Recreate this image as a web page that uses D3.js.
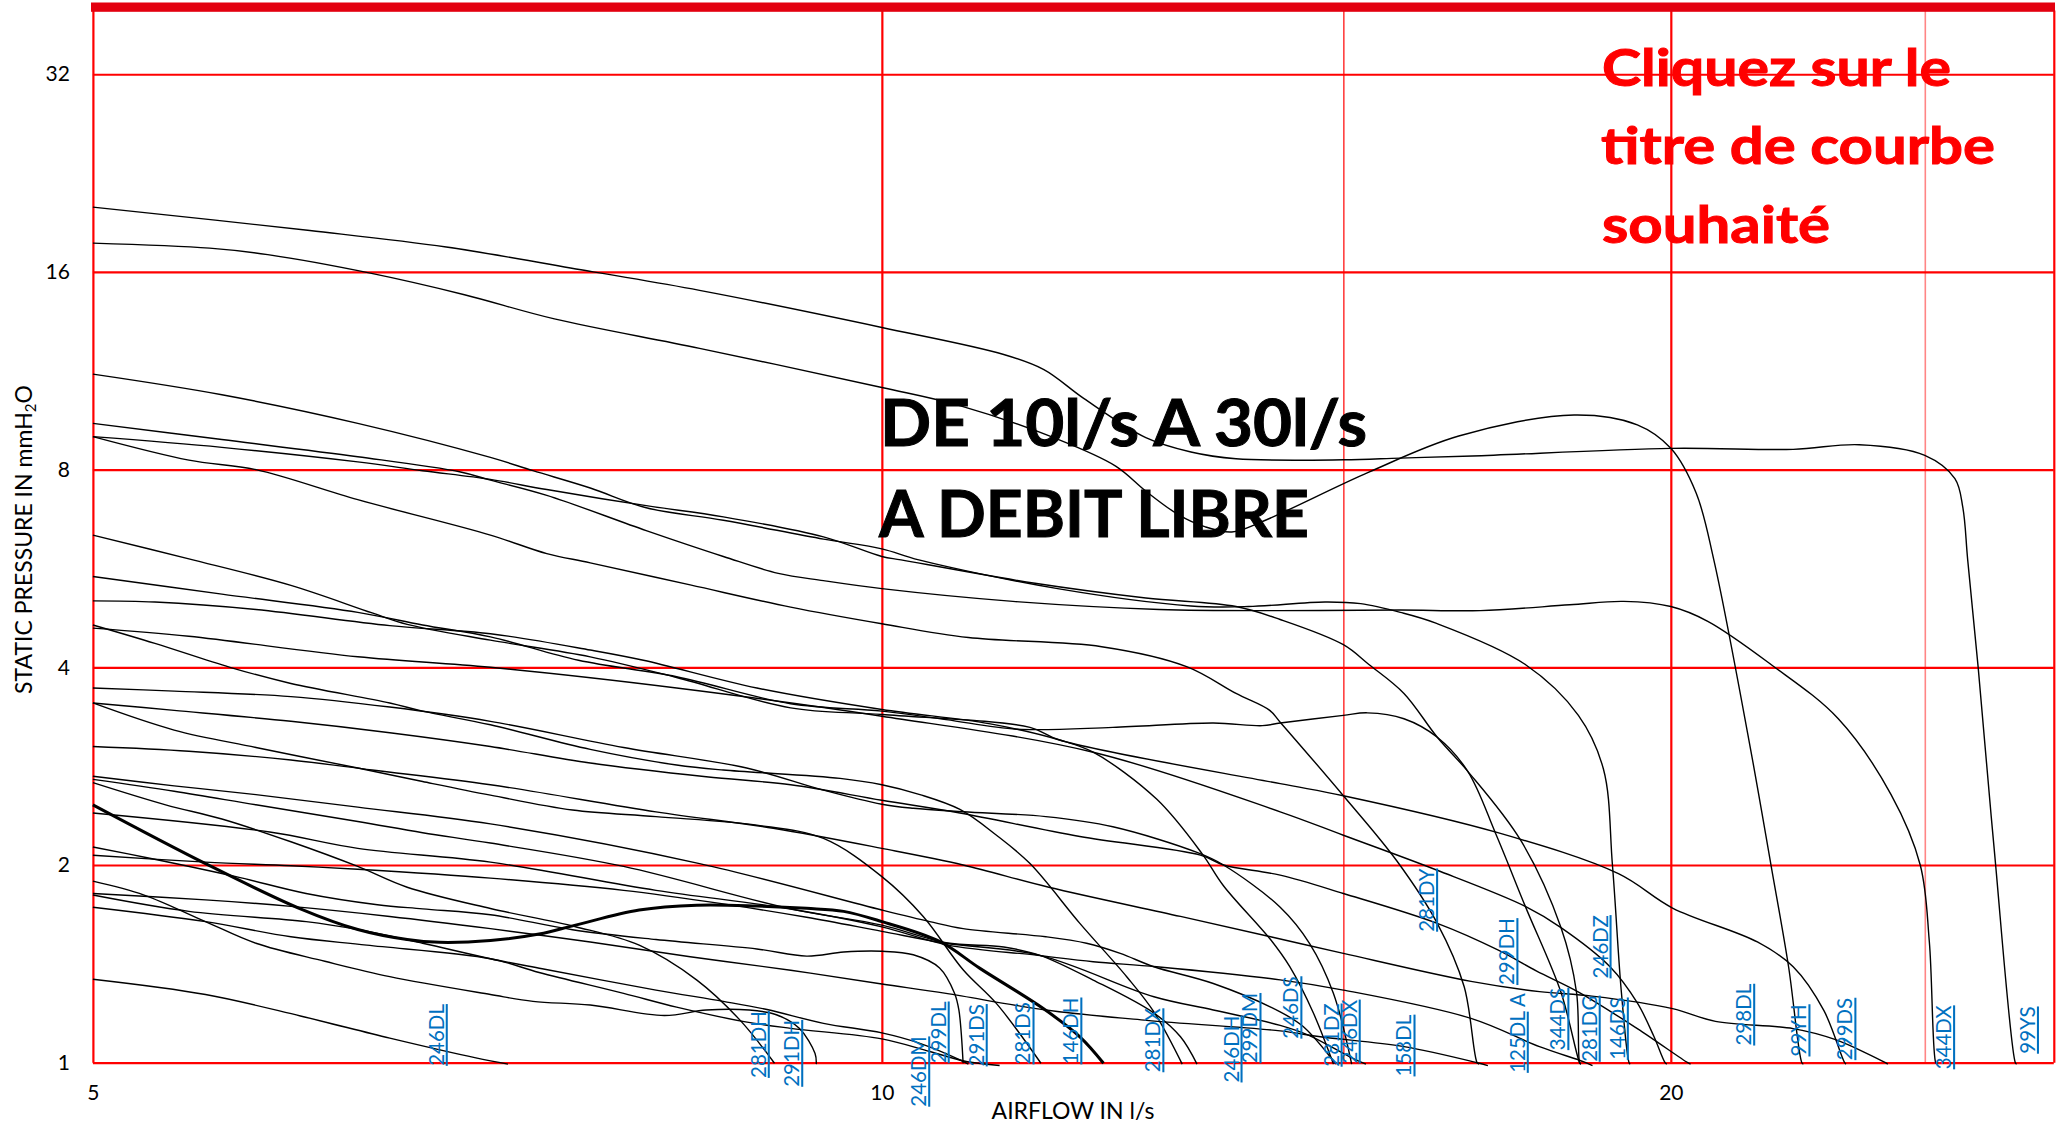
<!DOCTYPE html>
<html>
<head>
<meta charset="utf-8">
<script src="https://cdn.jsdelivr.net/npm/d3@7"></script>
<style>
    html, body { margin: 0; padding: 0; background: #fff; }
    text { font-family: Lato, sans-serif; }
    .curve { fill: none; stroke: #000; stroke-width: 1.4; }
    .curve.bold { stroke-width: 3; }
    .tickAxis text { font-size: 21px; fill: #000; }
    .curveTitle { font-size: 20.5px; fill: #0070c0; }
    .curveTitle .link { text-decoration: underline; }
</style>
</head>
<body>
<div id="chart"></div>
<script>
var svgWidth = 2069;
var svgHeight = 1125;

// airflow l/s, static pressure mmH2O
var c01 = [[5,20.08],[6.05,18.5],[6.82,17.46],[7.76,16],[8.52,15],[10,13.17],[11.13,11.98],[11.53,11.36],[11.94,10.27],[12.61,8.95],[13.12,8.51],[13.65,8.31],[15,8.28],[15.77,8.33],[16.8,8.39],[20,8.62],[22.27,8.59],[23.6,8.73],[25,8.41],[25.67,7.75],[25.85,7],[25.96,5.83],[26.2,4],[26.57,2.12],[27.07,1],[27.1,0.995]];
var c02 = [[5,17.7],[5.54,17.39],[5.83,17],[6.38,15.93],[6.93,14.77],[7.5,13.57],[8.52,12.24],[10,10.67],[10.7,10.02],[11.67,8.9],[12.28,8.1],[12.61,7.42],[12.97,6.84],[13.28,6.55],[13.6,6.43],[13.97,6.67],[15.34,7.93],[16.6,9],[18.37,9.69],[19.42,9.36],[20,8.62],[20.45,7.37],[20.77,5.83],[21.42,3.1],[21.84,2],[22.18,1.4],[22.44,1],[22.47,0.995]];
var c03 = [[5,11.18],[5.6,10.4],[6.31,9.41],[7.09,8.35],[7.36,7.97],[7.74,7.5],[8.13,7],[8.7,6.7],[9.5,6.27],[10,6.06],[10.33,5.83],[11.67,5.27],[13.12,4.96],[13.8,4.95],[14.76,5.03],[15.23,5],[15.77,4.85],[16.27,4.67],[17.6,4.04],[18.44,3.38],[18.85,2.8],[19,2],[19.15,1.28],[19.28,1],[19.3,0.995]];
var c04 = [[5,9.41],[5.6,8.89],[6.31,8.37],[6.9,7.94],[7.09,7.71],[7.45,7.31],[8.13,6.46],[8.7,5.9],[9.13,5.56],[9.5,5.42],[10,5.27],[11.22,5.04],[12.76,4.9],[14.19,4.88],[15.77,4.89],[16.92,4.88],[18.3,4.98],[19.19,5.04],[20,4.95],[20.66,4.7],[21.84,4.04],[23.17,3.34],[24.27,2.56],[24.9,2],[25.1,1.527],[25.24,1],[25.27,0.995]];
var c05 = [[5,8.98],[5.6,8.65],[6.31,8.22],[6.68,7.97],[7.09,7.73],[7.45,7.46],[8.13,7.05],[8.7,6.78],[9.5,6.32],[10,5.9],[10.17,5.83],[11.44,5.37],[12.61,5.1],[13.65,4.95],[14.19,4.73],[15,4.33],[15.34,4.04],[15.82,3.65],[16.29,3.13],[16.73,2.78],[17.53,2.18],[18.16,1.606],[18.41,1.28],[18.46,1],[18.48,0.995]];
var c06 = [[5,8.98],[5.44,8.27],[5.77,8],[6.31,7.2],[7.09,6.36],[7.45,5.96],[7.74,5.77],[8.45,5.34],[9.23,4.94],[10,4.66],[10.79,4.44],[12.13,4.3],[13.07,4.01],[13.65,3.65],[14.06,3.44],[14.19,3.3],[15,2.55],[15.72,2.03],[16.29,1.63],[16.68,1.305],[16.87,1],[16.9,0.995]];
var c07 = [[5,5.05],[5.28,5.03],[5.77,4.9],[6.49,4.63],[7.09,4.5],[7.74,4.25],[8.11,4.1],[8.96,3.72],[10,3.45],[11,3.28],[11.69,3.1],[12.04,2.97],[12.73,2.52],[13.25,2.08],[13.5,1.86],[14.07,1.54],[14.31,1.4],[14.61,1.19],[14.87,0.995]];
var c08 = [[5,5.5],[5.6,5.17],[6.31,4.85],[6.68,4.64],[7.09,4.45],[7.66,4.1],[8.35,3.87],[9.23,3.52],[10,3.43],[10.58,3.33],[11.26,3.22],[12.25,3.24],[13.38,3.29],[13.97,3.26],[14.19,3.29],[15,3.38],[15.32,3.41],[15.82,3.34],[16.29,3.13],[16.73,2.78],[17.15,2.23],[17.6,1.73],[18.16,1.28],[18.46,1],[18.48,0.995]];
var c09 = [[5,6.36],[5.44,5.85],[5.95,5.33],[6.39,4.84],[6.59,4.65],[7.09,4.4],[7.74,4.15],[8.35,3.86],[9.23,3.47],[10,3.39],[11.39,3.24],[11.69,3.1],[14.19,2.66],[15,2.55],[17.18,2.24],[19.1,1.94],[20.03,1.72],[21.58,1.527],[22.27,1.4],[22.88,1.2],[23.3,1],[23.33,0.995]];
var c10 = [[5,4.59],[5.44,4.46],[6.31,4.15],[7.09,4],[8.35,3.72],[10,3.37],[12.04,2.97],[14.19,2.41],[15,2.22],[16.27,1.967],[17.6,1.73],[18.16,1.606],[18.96,1.4],[19.42,1.233],[19.7,1.099],[19.9,1],[19.93,0.995]];
var c11 = [[5,4.64],[5.28,4.35],[5.64,4],[5.95,3.78],[6.49,3.53],[6.68,3.43],[7.09,3.27],[7.74,3],[8.35,2.84],[8.7,2.79],[9.64,2.71],[10,2.65],[10.34,2.56],[10.71,2.43],[11.06,2.22],[11.39,2.01],[11.9,1.63],[12.4,1.352],[12.7,1.195],[13.02,0.995]];
var c12 = [[5,3.72],[5.37,3.68],[5.95,3.61],[6.49,3.48],[7.09,3.31],[7.97,3.02],[8.88,2.81],[9.5,2.6],[10,2.475],[10.28,2.44],[10.74,2.41],[11.55,2.37],[12.25,2.287],[13.19,2.09],[13.5,2],[14.19,1.725],[14.56,1.52],[14.87,1.275],[15.11,0.995]];
var c13 = [[5,3.53],[5.37,3.44],[5.95,3.31],[6.49,3.18],[7.09,3.03],[7.74,2.86],[8.57,2.725],[9.23,2.65],[10,2.51],[10.71,2.4],[11.9,2.21],[13.23,2.07],[13.5,2],[14.19,1.93],[15,1.81],[16.29,1.63],[17.18,1.485],[17.77,1.38],[18.45,1.28],[19.42,1.127],[20.3,1],[20.35,0.995]];
var c14 = [[5,3.53],[5.37,3.21],[5.77,3.02],[6.31,2.81],[6.68,2.68],[7.09,2.555],[7.62,2.425],[8.2,2.37],[8.96,2.3],[9.5,2.195],[10,1.92],[10.37,1.67],[10.74,1.385],[11.06,1.23],[11.5,0.998]];
var c15 = [[5,3.03],[5.44,2.98],[5.95,2.89],[6.39,2.79],[7.09,2.65],[8.2,2.41],[9.09,2.275],[10,2.12],[10.74,2],[11.58,1.85],[13,1.67],[14.07,1.555],[15,1.467],[16.78,1.33],[17.82,1.283],[18.66,1.263],[20.03,1.209],[20.8,1.156],[22.27,1.127],[23.1,1.085],[24.15,1],[24.2,0.995]];
var c16 = [[5,2.73],[5.37,2.64],[5.77,2.56],[6.31,2.45],[7.09,2.31],[8.52,2.01],[10,1.708],[10.43,1.64],[10.74,1.6],[11.55,1.555],[11.97,1.52],[12.33,1.467],[12.7,1.4],[13.38,1.32],[14.19,1.195],[14.48,1.135],[14.83,1.02],[14.9,0.995]];
var c17 = [[5,2.7],[5.37,2.59],[5.77,2.47],[6.31,2.33],[6.68,2.24],[7.09,2.16],[7.97,1.99],[9.23,1.715],[10,1.62],[10.58,1.523],[11.13,1.5],[11.49,1.457],[12.04,1.336],[12.7,1.19],[13,1.095],[13.19,0.995]];
var c18 = [[5,2.67],[5.33,2.47],[5.6,2.35],[5.95,2.17],[6.31,1.99],[6.59,1.85],[7.09,1.717],[7.64,1.611],[8.08,1.51],[8.5,1.336],[8.83,1.16],[9.1,0.998]];
var c19 = [[5,2.47],[5.52,2.01],[6,1.715],[6.31,1.595],[6.59,1.54],[6.78,1.525],[7.09,1.535],[7.4,1.57],[7.64,1.62],[8.08,1.708],[8.5,1.737],[8.96,1.732],[9.36,1.718],[9.67,1.7],[10,1.64],[10.52,1.53],[10.9,1.392],[11.52,1.21],[11.9,1.095],[12.15,0.998]];
var c20 = [[5,2.4],[5.84,2.245],[6.31,2.12],[7.09,2.02],[8.2,1.83],[9.18,1.72],[10,1.61],[10.6,1.51],[11.45,1.458],[12.04,1.425],[12.73,1.4],[14.19,1.337],[15,1.29],[16.78,1.168],[17.82,1.058],[18.53,1.003],[18.67,0.99]];
var c21 = [[5,2.13],[5.25,2.05],[5.67,1.92],[6.03,1.81],[6.42,1.74],[6.68,1.715],[7.09,1.68],[7.62,1.594],[8.2,1.54],[8.96,1.49],[9.36,1.453],[9.67,1.474],[10,1.478],[10.28,1.46],[10.52,1.394],[10.66,1.275],[10.7,1.203],[10.74,0.998]];
var c22 = [[5,2.07],[5.52,2.02],[5.95,1.995],[6.31,1.97],[7.09,1.91],[7.97,1.83],[8.7,1.745],[9.36,1.665],[10,1.585],[10.58,1.52],[11.49,1.457],[12.7,1.26],[13.38,1.203],[14.19,1.14],[14.56,1.1],[15.09,1.02],[15.3,0.995]];
var c23 = [[5,1.89],[5.23,1.8],[5.52,1.64],[5.77,1.52],[6.13,1.427],[6.49,1.352],[7.09,1.27],[7.36,1.24],[7.74,1.224],[8.26,1.18],[8.57,1.203],[8.9,1.203],[9.12,1.182],[9.3,1.128],[9.43,1.033],[9.44,0.995]];
var c24 = [[5,1.81],[5.52,1.77],[5.95,1.73],[6.49,1.67],[7.09,1.6],[7.74,1.527],[8.45,1.45],[9.23,1.383],[10,1.318],[10.58,1.275],[11.55,1.203],[12.62,1.16],[14.19,1.118],[14.7,1.095],[15.82,1.058],[16.87,1],[17.03,0.99]];
var c25 = [[5,1.8],[5.44,1.7],[6.03,1.64],[6.31,1.595],[6.68,1.52],[7.09,1.44],[7.42,1.39],[8.2,1.29],[8.7,1.24],[9.04,1.205],[9.5,1.148],[10,1.11],[10.34,1.07],[10.71,1.01],[10.79,0.995]];
var c26 = [[5,1.725],[5.52,1.64],[5.95,1.555],[6.36,1.51],[7.09,1.44],[7.4,1.372],[7.97,1.275],[8.35,1.215],[8.86,1.155],[9.23,1.128],[10,1.087],[10.43,1.04],[10.77,1.004],[11.09,0.99]];
var c27 = [[5,1.34],[5.52,1.27],[6,1.178],[6.49,1.09],[7,1.017],[7.2,0.995]];

var curves = [c01, c02, c03, c04, c05, c06, c07, c08, c09, c10, c11, c12, c13, c14,
    c15, c16, c17, c18, c19, c20, c21, c22, c23, c24, c25, c26, c27];

// curve titles and the flow / pressure where each one starts
var titleNames = ["246DL", "281DH", "291DH", "246DM", "299DL", "291DS", "281DS", "146DH", "281DX", "246DH", "299DM", "246DS", "281DZ", "246DX", "158DL", "281DY", "299DH", "125DL", "344DS", "281DG", "146DS", "246DZ", "298DL", "99YH", "299DS", "344DX", "99YS"];
var titleFlow = [6.82, 9.05, 9.32, 10.42, 10.6, 10.96, 11.42, 11.91, 12.8, 13.71, 13.94, 14.45, 14.97, 15.21, 15.96, 16.28, 17.47, 17.63, 18.27, 18.78, 19.25, 18.96, 21.51, 22.58, 23.51, 25.64, 27.6];
var titlePressure = [0.989, 0.948, 0.919, 0.857, 0.998, 0.987, 0.994, 0.994, 0.967, 0.933, 0.998, 1.088, 0.986, 0.997, 0.953, 1.583, 1.313, 0.965, 1.045, 1.003, 1.01, 1.344, 1.062, 1.022, 1.009, 0.977, 1.032];

var xGrid = [5, 10, 15, 20, 25, 28];
var xTickLabels = [5, 10, 20];
var yGrid = [1, 2, 4, 8, 16, 32];

var xScale = d3.scaleLog().base(2).domain([5, 28]).range([92.9, 2053.8]);
var yScale = d3.scaleLog().base(2).domain([1, 40]).range([1062.7, 10.6]);

var svg = d3.select("#chart")
    .append("svg")
    .attr("width", svgWidth)
    .attr("height", svgHeight)
    .style("display", "block");

var bottomAxis = d3.axisBottom(xScale)
    .tickValues(xGrid)
    .tickSize(-(1062.7 - 10.6))
    .tickPadding(22)
    .tickFormat(d => xTickLabels.includes(d) ? d : "");

var leftAxis = d3.axisLeft(yScale)
    .tickValues(yGrid)
    .tickSize(-(2053.8 - 92.9))
    .tickPadding(23)
    .tickFormat(d => d);

var xAxis = svg.append("g")
    .classed("tickAxis", true)
    .attr("transform", "translate(0, 1062.7)")
    .call(bottomAxis);

var yAxis = svg.append("g")
    .classed("tickAxis", true)
    .attr("transform", "translate(92.9, 0)")
    .call(leftAxis);

xAxis.select(".domain").remove();
yAxis.select(".domain").remove();

xAxis.selectAll(".tick line")
    .attr("stroke", d => d === 25 ? "#ff8585" : "#ff0000")
    .attr("stroke-width", d => d === 15 ? 1.2 : (d === 25 ? 1.6 : 2.2));

yAxis.selectAll(".tick line")
    .attr("stroke", "#ff0000")
    .attr("stroke-width", 2.2);

// thick band along the top of the frame
svg.append("rect")
    .attr("x", 91)
    .attr("y", 2.5)
    .attr("width", 1964)
    .attr("height", 9.3)
    .attr("fill", "#e3000f");

var line = d3.line()
    .x(d => xScale(d[0]))
    .y(d => yScale(d[1]))
    .curve(d3.curveCatmullRom.alpha(0.5));

svg.append("g")
    .selectAll("path")
    .data(curves)
    .enter().append("path")
    .attr("class", d => d === c19 ? "curve bold" : "curve")
    .attr("d", line);

var titles = svg.append("g")
    .selectAll("text")
    .data(titleNames)
    .enter().append("text")
    .classed("curveTitle", true)
    .attr("transform", (d, i) => `translate(${xScale(titleFlow[i]) - 2.5}, ${yScale(titlePressure[i])}) rotate(-90)`);

titles.append("tspan")
    .classed("link", true)
    .text(d => d);

titles.filter(d => d === "125DL")
    .append("tspan")
    .text(" A");

// big notes over the chart
var notesBlack = [
    {text: "DE 10l/s A 30l/s", x: 880, y: 446, len: 487},
    {text: "A DEBIT LIBRE", x: 879, y: 537, len: 430}
];
var notesRed = [
    {text: "Cliquez sur le", x: 1602, y: 86, len: 349},
    {text: "titre de courbe", x: 1601, y: 164, len: 394},
    {text: "souhaité", x: 1602, y: 243, len: 228}
];

svg.append("g")
    .selectAll("text")
    .data(notesBlack)
    .enter().append("text")
    .attr("x", d => d.x)
    .attr("y", d => d.y)
    .attr("textLength", d => d.len)
    .attr("lengthAdjust", "spacingAndGlyphs")
    .style("font-size", "65px")
    .style("font-weight", 700)
    .attr("fill", "#000")
    .attr("stroke", "#000")
    .attr("stroke-width", 1)
    .text(d => d.text);

svg.append("g")
    .selectAll("text")
    .data(notesRed)
    .enter().append("text")
    .attr("x", d => d.x)
    .attr("y", d => d.y)
    .attr("textLength", d => d.len)
    .attr("lengthAdjust", "spacingAndGlyphs")
    .style("font-size", "52px")
    .style("font-weight", 700)
    .attr("fill", "#ff0000")
    .attr("stroke", "#ff0000")
    .attr("stroke-width", 1)
    .text(d => d.text);

svg.append("text")
    .attr("x", 1073)
    .attr("y", 1118.5)
    .attr("text-anchor", "middle")
    .style("font-size", "23px")
    .text("AIRFLOW IN l/s");

var yTitle = svg.append("text")
    .attr("transform", "translate(32, 694) rotate(-90)")
    .style("font-size", "23px");

yTitle.append("tspan").text("STATIC PRESSURE IN mmH");
yTitle.append("tspan").attr("dy", 4).style("font-size", "15px").text("2");
yTitle.append("tspan").attr("dy", -4).text("O");
</script>
</body>
</html>
